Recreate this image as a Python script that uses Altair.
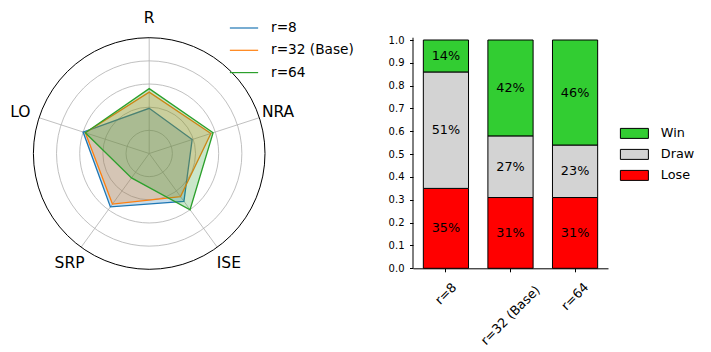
import math
import altair as alt
import pandas as pd

# ---------------- data ----------------
radar_axes = ["R", "NRA", "ISE", "SRP", "LO"]
series_names = ["r=8", "r=32 (Base)", "r=64"]
r8_values = [0.39, 0.39, 0.51, 0.57, 0.60]
r32_values = [0.53, 0.56, 0.46, 0.54, 0.58]
r64_values = [0.56, 0.58, 0.60, 0.26, 0.58]
series_colors = ["#1f77b4", "#ff7f0e", "#2ca02c"]
grid_levels = [0.2, 0.4, 0.6, 0.8]
outer_levels = [1.0]

configs = ["r=8", "r=32 (Base)", "r=64"]
lose_share = [0.35, 0.31, 0.31]
draw_share = [0.51, 0.27, 0.23]
win_share = [0.14, 0.42, 0.46]
outcome_names = ["Win", "Draw", "Lose"]
outcome_colors = ["#32cd32", "#d3d3d3", "#ff0000"]
y_ticks = [0.0, 0.1, 0.2, 0.3, 0.4, 0.5, 0.6, 0.7, 0.8, 0.9, 1.0]

FONT = "DejaVu Sans"

# ---------------- radar ----------------
rows = []
for name, vals in zip(series_names, [r8_values, r32_values, r64_values]):
    for i, (ax, v) in enumerate(zip(radar_axes, vals)):
        rows.append({"series": name, "idx": i, "axis": ax, "value": v})
radar_df = pd.DataFrame(rows)
axes_df = pd.DataFrame({"axis": radar_axes, "idx": list(range(len(radar_axes)))})

R_PX = 115.8
xs = alt.Scale(domain=[-1.2193, 1.8031], nice=False, zero=False)
ys = alt.Scale(domain=[-1.3342, 1.2565], nice=False, zero=False)
n_axes = len(radar_axes)
rscale = alt.Scale(type="linear", domain=[0, 1], range=[0, R_PX], zero=True, nice=False)

grid = alt.Chart(pd.DataFrame({"level": grid_levels})).mark_arc(
    filled=False, stroke="#b0b0b0", strokeWidth=0.8, theta=0, theta2=2 * math.pi
).encode(
    x=alt.X(datum=0, type="quantitative", scale=xs, axis=None),
    y=alt.Y(datum=0, type="quantitative", scale=ys, axis=None),
    radius=alt.Radius("level:Q", scale=rscale, stack=False),
    detail="level:Q",
)

spokes = alt.Chart(axes_df).transform_calculate(
    cx="0", cy="0",
    sx=f"sin(datum.idx*2*PI/{n_axes})", sy=f"cos(datum.idx*2*PI/{n_axes})",
).mark_rule(color="#b0b0b0", strokeWidth=0.8).encode(
    x=alt.X("cx:Q", scale=xs, axis=None), y=alt.Y("cy:Q", scale=ys, axis=None),
    x2="sx:Q", y2="sy:Q",
)

outer = alt.Chart(pd.DataFrame({"level": outer_levels})).mark_arc(
    filled=False, stroke="black", strokeWidth=1, theta=0, theta2=2 * math.pi
).encode(
    x=alt.X(datum=0, type="quantitative", scale=xs, axis=None),
    y=alt.Y(datum=0, type="quantitative", scale=ys, axis=None),
    radius=alt.Radius("level:Q", scale=rscale, stack=False),
)

col_scale = alt.Scale(domain=series_names, range=series_colors)
radar_legend = alt.Legend(title=None, orient="none", legendX=221, legendY=5,
                          symbolType="stroke", symbolSize=800, symbolStrokeWidth=1.2,
                          labelFontSize=13.7, labelFont=FONT, labelColor="black",
                          rowPadding=0.3, labelOffset=12, padding=0)
polys = alt.Chart(radar_df).transform_calculate(
    px=f"datum.value*sin(datum.idx*2*PI/{n_axes})",
    py=f"datum.value*cos(datum.idx*2*PI/{n_axes})",
).mark_line(interpolate="linear-closed", fillOpacity=0.25, strokeWidth=1.3).encode(
    x=alt.X("px:Q", scale=xs, axis=None),
    y=alt.Y("py:Q", scale=ys, axis=None),
    stroke=alt.Stroke("series:N", scale=col_scale, sort=series_names, legend=radar_legend),
    fill=alt.Fill("series:N", scale=col_scale, sort=series_names, legend=radar_legend),
    order=alt.Order("idx:Q"),
)

labels = alt.Chart(axes_df).transform_calculate(
    tx=f"1.17*sin(datum.idx*2*PI/{n_axes})", ty=f"1.17*cos(datum.idx*2*PI/{n_axes})",
).mark_text(fontSize=15.5, font=FONT, color="black", align="center", baseline="middle").encode(
    x=alt.X("tx:Q", scale=xs, axis=None), y=alt.Y("ty:Q", scale=ys, axis=None), text="axis:N",
)

radar = alt.layer(grid, spokes, outer, polys, labels).properties(width=350, height=300)

# ---------------- bars ----------------
brow = []
for c, l, d, w in zip(configs, lose_share, draw_share, win_share):
    brow.append({"config": c, "outcome": "Lose", "k": 0, "share": l})
    brow.append({"config": c, "outcome": "Draw", "k": 1, "share": d})
    brow.append({"config": c, "outcome": "Win", "k": 2, "share": w})
bar_df = pd.DataFrame(brow)

Y_PX_PER_UNIT = 228.3
yscale = alt.Scale(domain=[0, 1.1402], nice=False, zero=True)
xband = alt.Scale(paddingInner=0.3, paddingOuter=0.16)

xaxis = alt.Axis(title=None, labels=False, tickSize=3.5, tickColor="black",
                 domainColor="black", domainWidth=1)
yaxis = alt.Axis(title=None, values=y_ticks, format=".1f", domain=False, grid=False,
                 tickSize=3.5, tickColor="black", labelFontSize=10, labelFont=FONT,
                 labelColor="black", labelPadding=5.5, labelOverlap=False)

base = alt.Chart(bar_df).transform_stack(
    stack="share", groupby=["config"], as_=["v0", "v1"], sort=[alt.SortField("k", order="ascending")]
).transform_calculate(mid="(datum.v0+datum.v1)/2")

bars = base.mark_bar(stroke="black", strokeWidth=1).encode(
    x=alt.X("config:N", sort=configs, scale=xband, axis=xaxis),
    y=alt.Y("v0:Q", scale=yscale, axis=yaxis),
    y2="v1:Q",
    color=alt.Color("outcome:N", scale=alt.Scale(domain=outcome_names, range=outcome_colors),
                    legend=alt.Legend(title=None, orient="none", legendX=215, legendY=119,
                                      symbolType="M-2.8,-1H2.8V1H-2.8Z", symbolSize=100,
                                      symbolStrokeColor="black", symbolStrokeWidth=1,
                                      symbolOpacity=1, labelFontSize=12.8, labelFont=FONT,
                                      labelColor="black", labelOffset=20, rowPadding=6, padding=0)),
)

texts = base.mark_text(fontSize=12.8, font=FONT, color="black", baseline="middle").encode(
    x=alt.X("config:N", sort=configs, scale=xband, axis=xaxis),
    y=alt.Y("mid:Q", scale=yscale, axis=yaxis),
    text=alt.Text("share:Q", format=".0%"),
)

# rotated category labels, centred under each tick (matplotlib rotation=45, ha=center)
xlabels = alt.Chart(pd.DataFrame({"config": configs})).transform_calculate(
    ly=f"-(13 + 0.354*(length(datum.config)*7.6 + 13))/{Y_PX_PER_UNIT}"
).mark_text(angle=315, align="center", baseline="middle", fontSize=12.8, font=FONT, color="black").encode(
    x=alt.X("config:N", sort=configs, scale=xband, axis=xaxis),
    y=alt.Y("ly:Q", scale=yscale, axis=yaxis),
    text="config:N",
)

spine = alt.Chart(pd.DataFrame({"a": [0]})).mark_rule(color="black", strokeWidth=1).encode(
    x=alt.value(0), y=alt.Y(datum=0, scale=yscale, axis=yaxis), y2=alt.datum(1.01),
)

barchart = alt.layer(bars, texts, xlabels, spine).properties(width=195, height=260.3)

chart = alt.hconcat(radar, barchart, spacing=30).resolve_scale(
    color="independent", stroke="independent", fill="independent", x="independent", y="independent"
).resolve_legend(color="independent", stroke="independent", fill="independent").properties(
    padding=0
).configure(font=FONT).configure_view(stroke="transparent", strokeWidth=0)

chart.save("out.html", embed_options={"renderer": "svg", "actions": False})
